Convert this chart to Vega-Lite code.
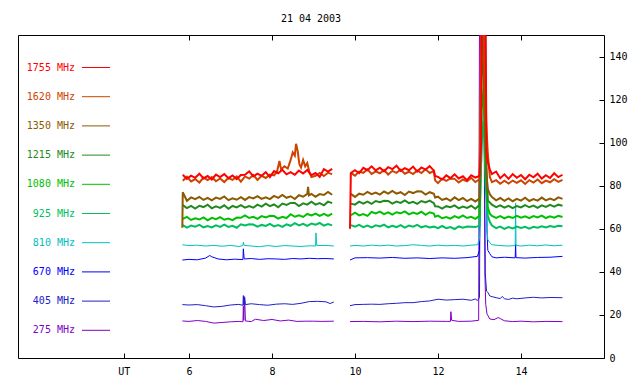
{
"$schema":"https://vega.github.io/schema/vega-lite/v6.json",
"width":586,"height":323,
"autosize":{"type":"none"},
"padding":{"left":18,"top":35,"right":36,"bottom":26},
"background":"white",
"title":{"text":"21 04 2003","font":"DejaVu Sans Mono","fontSize":10,"fontWeight":"normal","color":"black","offset":11,"anchor":"middle"},
"config":{"view":{"stroke":"black","strokeWidth":1},"axis":{"labelFont":"DejaVu Sans Mono","labelFontSize":10,"labelColor":"black","tickColor":"black","grid":false,"domain":false,"title":null}},
"resolve":{"axis":{"x":"independent"},"scale":{"x":"shared"}},
"layer":[
{"data":{"values":[
{"f":275,"t":5.84,"v":17.2},{"f":275,"t":6.0,"v":17.0},{"f":275,"t":6.2,"v":17.4},{"f":275,"t":6.4,"v":17.0},{"f":275,"t":6.6,"v":16.2},{"f":275,"t":6.8,"v":16.5},{"f":275,"t":7.0,"v":16.8},{"f":275,"t":7.2,"v":17.0},{"f":275,"t":7.3,"v":16.8},{"f":275,"t":7.31,"v":24.0},{"f":275,"t":7.32,"v":17.5},{"f":275,"t":7.34,"v":28.5},{"f":275,"t":7.36,"v":17.2},{"f":275,"t":7.5,"v":16.9},{"f":275,"t":7.6,"v":18.0},{"f":275,"t":7.8,"v":17.4},{"f":275,"t":8.0,"v":17.9},{"f":275,"t":8.2,"v":17.2},{"f":275,"t":8.4,"v":17.6},{"f":275,"t":8.6,"v":17.0},{"f":275,"t":8.8,"v":17.1},{"f":275,"t":9.0,"v":17.1},{"f":275,"t":9.2,"v":17.0},{"f":275,"t":9.49,"v":17.1},{"f":275,"t":9.7,"v":null},
{"f":275,"t":9.88,"v":16.9},{"f":275,"t":10.2,"v":17.0},{"f":275,"t":10.6,"v":16.8},{"f":275,"t":11.0,"v":17.1},{"f":275,"t":11.4,"v":16.9},{"f":275,"t":11.8,"v":17.1},{"f":275,"t":12.2,"v":17.0},{"f":275,"t":12.3,"v":17.0},{"f":275,"t":12.31,"v":21.5},{"f":275,"t":12.33,"v":17.5},{"f":275,"t":12.5,"v":17.0},{"f":275,"t":12.8,"v":17.1},{"f":275,"t":12.98,"v":17.5},{"f":275,"t":13.0,"v":160},{"f":275,"t":13.1,"v":160},{"f":275,"t":13.13,"v":39},{"f":275,"t":13.15,"v":25},{"f":275,"t":13.18,"v":20.5},{"f":275,"t":13.25,"v":18.1},{"f":275,"t":13.35,"v":17.8},{"f":275,"t":13.45,"v":18.8},{"f":275,"t":13.5,"v":18.3},{"f":275,"t":13.6,"v":17.3},{"f":275,"t":13.8,"v":16.9},{"f":275,"t":14.0,"v":17.1},{"f":275,"t":14.3,"v":16.8},{"f":275,"t":14.6,"v":17.0},{"f":275,"t":15.0,"v":16.9},
{"f":405,"t":5.84,"v":24.8},{"f":405,"t":6.0,"v":24.6},{"f":405,"t":6.2,"v":24.8},{"f":405,"t":6.4,"v":24.3},{"f":405,"t":6.6,"v":23.7},{"f":405,"t":6.8,"v":24.0},{"f":405,"t":7.0,"v":24.6},{"f":405,"t":7.2,"v":24.9},{"f":405,"t":7.3,"v":24.5},{"f":405,"t":7.31,"v":29.0},{"f":405,"t":7.32,"v":24.5},{"f":405,"t":7.34,"v":28.0},{"f":405,"t":7.36,"v":24.8},{"f":405,"t":7.5,"v":25.2},{"f":405,"t":7.7,"v":24.8},{"f":405,"t":7.9,"v":24.5},{"f":405,"t":8.1,"v":25.0},{"f":405,"t":8.3,"v":25.2},{"f":405,"t":8.5,"v":24.9},{"f":405,"t":8.7,"v":25.4},{"f":405,"t":8.9,"v":26.2},{"f":405,"t":9.1,"v":26.3},{"f":405,"t":9.3,"v":26.1},{"f":405,"t":9.4,"v":25.3},{"f":405,"t":9.49,"v":26.0},{"f":405,"t":9.7,"v":null},
{"f":405,"t":9.88,"v":24.3},{"f":405,"t":10.0,"v":24.8},{"f":405,"t":10.2,"v":24.9},{"f":405,"t":10.4,"v":25.0},{"f":405,"t":10.6,"v":24.9},{"f":405,"t":10.8,"v":25.2},{"f":405,"t":11.0,"v":25.4},{"f":405,"t":11.2,"v":25.7},{"f":405,"t":11.4,"v":25.7},{"f":405,"t":11.6,"v":26.2},{"f":405,"t":11.8,"v":26.5},{"f":405,"t":12.0,"v":27.3},{"f":405,"t":12.2,"v":26.9},{"f":405,"t":12.4,"v":27.1},{"f":405,"t":12.6,"v":27.3},{"f":405,"t":12.8,"v":26.8},{"f":405,"t":12.9,"v":27.4},{"f":405,"t":12.95,"v":26.7},{"f":405,"t":13.0,"v":28},{"f":405,"t":13.03,"v":160},{"f":405,"t":13.1,"v":160},{"f":405,"t":13.14,"v":39},{"f":405,"t":13.17,"v":31},{"f":405,"t":13.2,"v":30.5},{"f":405,"t":13.25,"v":28.8},{"f":405,"t":13.3,"v":28.5},{"f":405,"t":13.4,"v":28.0},{"f":405,"t":13.5,"v":27.6},{"f":405,"t":13.55,"v":28.6},{"f":405,"t":13.6,"v":27.5},{"f":405,"t":13.7,"v":27.2},{"f":405,"t":13.8,"v":27.8},{"f":405,"t":13.9,"v":27.5},{"f":405,"t":14.1,"v":27.9},{"f":405,"t":14.3,"v":28.2},{"f":405,"t":14.5,"v":27.9},{"f":405,"t":14.7,"v":28.1},{"f":405,"t":15.0,"v":28.0},
{"f":670,"t":5.84,"v":45.5},{"f":670,"t":6.0,"v":45.8},{"f":670,"t":6.2,"v":45.6},{"f":670,"t":6.4,"v":46.4},{"f":670,"t":6.5,"v":47.6},{"f":670,"t":6.55,"v":47.0},{"f":670,"t":6.7,"v":46.0},{"f":670,"t":6.9,"v":45.6},{"f":670,"t":7.1,"v":45.9},{"f":670,"t":7.3,"v":45.7},{"f":670,"t":7.31,"v":50.7},{"f":670,"t":7.33,"v":46.0},{"f":670,"t":7.5,"v":46.2},{"f":670,"t":7.7,"v":45.8},{"f":670,"t":7.9,"v":46.1},{"f":670,"t":8.1,"v":46.0},{"f":670,"t":8.3,"v":45.8},{"f":670,"t":8.5,"v":46.2},{"f":670,"t":8.7,"v":46.0},{"f":670,"t":8.9,"v":46.3},{"f":670,"t":9.1,"v":46.1},{"f":670,"t":9.3,"v":46.2},{"f":670,"t":9.49,"v":46.0},{"f":670,"t":9.7,"v":null},
{"f":670,"t":9.88,"v":45.5},{"f":670,"t":10.0,"v":46.5},{"f":670,"t":10.3,"v":46.6},{"f":670,"t":10.6,"v":46.4},{"f":670,"t":10.9,"v":46.7},{"f":670,"t":11.2,"v":46.3},{"f":670,"t":11.5,"v":46.5},{"f":670,"t":11.8,"v":46.2},{"f":670,"t":12.1,"v":46.5},{"f":670,"t":12.4,"v":46.3},{"f":670,"t":12.7,"v":46.6},{"f":670,"t":12.95,"v":47.2},{"f":670,"t":13.0,"v":50},{"f":670,"t":13.05,"v":160},{"f":670,"t":13.15,"v":160},{"f":670,"t":13.18,"v":60},{"f":670,"t":13.2,"v":50},{"f":670,"t":13.25,"v":48.4},{"f":670,"t":13.3,"v":47.0},{"f":670,"t":13.4,"v":46.5},{"f":670,"t":13.6,"v":46.8},{"f":670,"t":13.86,"v":46.5},{"f":670,"t":13.87,"v":53},{"f":670,"t":13.88,"v":46.6},{"f":670,"t":14.1,"v":46.4},{"f":670,"t":14.4,"v":46.7},{"f":670,"t":14.7,"v":46.8},{"f":670,"t":15.0,"v":47.2},
{"f":810,"t":5.84,"v":52.6},{"f":810,"t":6.0,"v":52.2},{"f":810,"t":6.2,"v":52.4},{"f":810,"t":6.4,"v":52.0},{"f":810,"t":6.6,"v":52.3},{"f":810,"t":6.8,"v":51.9},{"f":810,"t":7.0,"v":52.3},{"f":810,"t":7.2,"v":51.8},{"f":810,"t":7.3,"v":52.2},{"f":810,"t":7.31,"v":53.8},{"f":810,"t":7.33,"v":52.3},{"f":810,"t":7.5,"v":52.0},{"f":810,"t":7.7,"v":51.7},{"f":810,"t":7.9,"v":52.2},{"f":810,"t":8.1,"v":51.8},{"f":810,"t":8.3,"v":52.2},{"f":810,"t":8.5,"v":52.0},{"f":810,"t":8.7,"v":51.8},{"f":810,"t":8.9,"v":52.1},{"f":810,"t":9.05,"v":52.0},{"f":810,"t":9.06,"v":58.1},{"f":810,"t":9.08,"v":52.2},{"f":810,"t":9.3,"v":52.3},{"f":810,"t":9.49,"v":52.0},{"f":810,"t":9.7,"v":null},
{"f":810,"t":9.88,"v":52.0},{"f":810,"t":10.0,"v":52.3},{"f":810,"t":10.2,"v":52.0},{"f":810,"t":10.4,"v":52.4},{"f":810,"t":10.6,"v":52.1},{"f":810,"t":10.8,"v":52.4},{"f":810,"t":11.0,"v":52.0},{"f":810,"t":11.2,"v":52.2},{"f":810,"t":11.4,"v":52.6},{"f":810,"t":11.6,"v":52.3},{"f":810,"t":11.8,"v":52.0},{"f":810,"t":12.0,"v":52.4},{"f":810,"t":12.2,"v":52.1},{"f":810,"t":12.4,"v":52.3},{"f":810,"t":12.6,"v":52.0},{"f":810,"t":12.8,"v":52.4},{"f":810,"t":12.95,"v":52.6},{"f":810,"t":13.0,"v":55},{"f":810,"t":13.05,"v":90},{"f":810,"t":13.1,"v":120},{"f":810,"t":13.13,"v":127},{"f":810,"t":13.16,"v":100},{"f":810,"t":13.18,"v":60},{"f":810,"t":13.2,"v":55},{"f":810,"t":13.25,"v":53.5},{"f":810,"t":13.3,"v":52.6},{"f":810,"t":13.5,"v":52.2},{"f":810,"t":13.7,"v":52.0},{"f":810,"t":13.86,"v":52.2},{"f":810,"t":13.87,"v":72.0},{"f":810,"t":13.88,"v":52.3},{"f":810,"t":14.0,"v":52.0},{"f":810,"t":14.2,"v":52.4},{"f":810,"t":14.4,"v":52.1},{"f":810,"t":14.6,"v":52.5},{"f":810,"t":14.8,"v":52.1},{"f":810,"t":15.0,"v":52.4},
{"f":925,"t":5.85,"v":61.7},{"f":925,"t":5.95,"v":60.5},{"f":925,"t":6.05,"v":61.5},{"f":925,"t":6.15,"v":61.0},{"f":925,"t":6.25,"v":61.8},{"f":925,"t":6.35,"v":60.7},{"f":925,"t":6.45,"v":61.3},{"f":925,"t":6.55,"v":60.6},{"f":925,"t":6.65,"v":61.6},{"f":925,"t":6.75,"v":60.9},{"f":925,"t":6.85,"v":61.9},{"f":925,"t":6.95,"v":60.9},{"f":925,"t":7.05,"v":61.4},{"f":925,"t":7.15,"v":60.5},{"f":925,"t":7.25,"v":62.1},{"f":925,"t":7.35,"v":61.5},{"f":925,"t":7.45,"v":62.1},{"f":925,"t":7.55,"v":62.0},{"f":925,"t":7.65,"v":61.0},{"f":925,"t":7.75,"v":61.8},{"f":925,"t":7.85,"v":61.3},{"f":925,"t":7.95,"v":62.3},{"f":925,"t":8.05,"v":61.1},{"f":925,"t":8.15,"v":61.7},{"f":925,"t":8.25,"v":60.9},{"f":925,"t":8.35,"v":62.1},{"f":925,"t":8.45,"v":61.4},{"f":925,"t":8.55,"v":62.6},{"f":925,"t":8.65,"v":61.6},{"f":925,"t":8.75,"v":62.3},{"f":925,"t":8.85,"v":61.4},{"f":925,"t":8.95,"v":62.4},{"f":925,"t":9.05,"v":61.9},{"f":925,"t":9.15,"v":62.7},{"f":925,"t":9.25,"v":61.5},{"f":925,"t":9.35,"v":62.2},{"f":925,"t":9.45,"v":61.6},{"f":925,"t":9.7,"v":null},
{"f":925,"t":9.9,"v":61.7},{"f":925,"t":10.0,"v":61.0},{"f":925,"t":10.1,"v":61.8},{"f":925,"t":10.2,"v":60.8},{"f":925,"t":10.3,"v":61.5},{"f":925,"t":10.4,"v":60.6},{"f":925,"t":10.5,"v":61.6},{"f":925,"t":10.6,"v":61.1},{"f":925,"t":10.7,"v":61.9},{"f":925,"t":10.8,"v":60.7},{"f":925,"t":10.9,"v":61.4},{"f":925,"t":11.0,"v":60.8},{"f":925,"t":11.1,"v":61.7},{"f":925,"t":11.2,"v":60.5},{"f":925,"t":11.3,"v":61.5},{"f":925,"t":11.4,"v":61.0},{"f":925,"t":11.5,"v":61.8},{"f":925,"t":11.6,"v":60.7},{"f":925,"t":11.7,"v":61.3},{"f":925,"t":11.8,"v":60.6},{"f":925,"t":11.9,"v":61.0},{"f":925,"t":12.0,"v":60.3},{"f":925,"t":12.1,"v":61.3},{"f":925,"t":12.2,"v":60.3},{"f":925,"t":12.3,"v":60.8},{"f":925,"t":12.4,"v":59.9},{"f":925,"t":12.5,"v":61.1},{"f":925,"t":12.6,"v":60.5},{"f":925,"t":12.7,"v":61.1},{"f":925,"t":12.8,"v":61.0},{"f":925,"t":12.9,"v":60.8},{"f":925,"t":13.0,"v":61.5},{"f":925,"t":13.05,"v":100},{"f":925,"t":13.1,"v":110},{"f":925,"t":13.15,"v":80},{"f":925,"t":13.2,"v":66},{"f":925,"t":13.25,"v":63.1},{"f":925,"t":13.3,"v":61.5},{"f":925,"t":13.4,"v":60.3},{"f":925,"t":13.5,"v":61.0},{"f":925,"t":13.6,"v":60.0},{"f":925,"t":13.7,"v":60.8},{"f":925,"t":13.8,"v":60.2},{"f":925,"t":13.9,"v":61.0},{"f":925,"t":14.0,"v":60.4},{"f":925,"t":14.1,"v":60.9},{"f":925,"t":14.2,"v":60.1},{"f":925,"t":14.3,"v":60.9},{"f":925,"t":14.4,"v":60.5},{"f":925,"t":14.5,"v":61.2},{"f":925,"t":14.6,"v":60.6},{"f":925,"t":14.7,"v":61.3},{"f":925,"t":14.8,"v":60.8},{"f":925,"t":14.9,"v":61.4},{"f":925,"t":15.0,"v":61.2},
{"f":1080,"t":5.85,"v":64.6},{"f":1080,"t":5.95,"v":65.5},{"f":1080,"t":6.05,"v":64.1},{"f":1080,"t":6.15,"v":64.9},{"f":1080,"t":6.25,"v":64.3},{"f":1080,"t":6.35,"v":65.3},{"f":1080,"t":6.45,"v":63.9},{"f":1080,"t":6.55,"v":65.1},{"f":1080,"t":6.65,"v":64.5},{"f":1080,"t":6.75,"v":65.4},{"f":1080,"t":6.85,"v":64.2},{"f":1080,"t":6.95,"v":64.8},{"f":1080,"t":7.05,"v":64.0},{"f":1080,"t":7.15,"v":65.2},{"f":1080,"t":7.25,"v":65.1},{"f":1080,"t":7.35,"v":66.2},{"f":1080,"t":7.45,"v":65.0},{"f":1080,"t":7.55,"v":65.6},{"f":1080,"t":7.65,"v":64.6},{"f":1080,"t":7.75,"v":65.9},{"f":1080,"t":7.85,"v":65.3},{"f":1080,"t":7.95,"v":66.0},{"f":1080,"t":8.05,"v":65.9},{"f":1080,"t":8.15,"v":64.7},{"f":1080,"t":8.25,"v":65.6},{"f":1080,"t":8.35,"v":65.0},{"f":1080,"t":8.45,"v":66.8},{"f":1080,"t":8.55,"v":65.6},{"f":1080,"t":8.65,"v":66.3},{"f":1080,"t":8.75,"v":65.5},{"f":1080,"t":8.85,"v":66.9},{"f":1080,"t":8.95,"v":66.2},{"f":1080,"t":9.05,"v":67.1},{"f":1080,"t":9.15,"v":66.0},{"f":1080,"t":9.25,"v":66.9},{"f":1080,"t":9.35,"v":66.0},{"f":1080,"t":9.45,"v":67.1},{"f":1080,"t":9.7,"v":null},
{"f":1080,"t":9.9,"v":66.3},{"f":1080,"t":10.0,"v":67.5},{"f":1080,"t":10.1,"v":66.2},{"f":1080,"t":10.2,"v":66.8},{"f":1080,"t":10.3,"v":66.0},{"f":1080,"t":10.4,"v":67.8},{"f":1080,"t":10.5,"v":67.1},{"f":1080,"t":10.6,"v":68.0},{"f":1080,"t":10.7,"v":66.8},{"f":1080,"t":10.8,"v":67.6},{"f":1080,"t":10.9,"v":66.6},{"f":1080,"t":11.0,"v":67.7},{"f":1080,"t":11.1,"v":67.2},{"f":1080,"t":11.2,"v":68.1},{"f":1080,"t":11.3,"v":66.7},{"f":1080,"t":11.4,"v":67.5},{"f":1080,"t":11.5,"v":66.9},{"f":1080,"t":11.6,"v":67.9},{"f":1080,"t":11.7,"v":66.5},{"f":1080,"t":11.8,"v":67.7},{"f":1080,"t":11.9,"v":67.1},{"f":1080,"t":11.93,"v":65.6},{"f":1080,"t":12.0,"v":66.1},{"f":1080,"t":12.1,"v":64.9},{"f":1080,"t":12.2,"v":65.5},{"f":1080,"t":12.3,"v":64.7},{"f":1080,"t":12.4,"v":65.9},{"f":1080,"t":12.5,"v":65.1},{"f":1080,"t":12.6,"v":66.2},{"f":1080,"t":12.7,"v":65.0},{"f":1080,"t":12.8,"v":65.6},{"f":1080,"t":12.9,"v":64.6},{"f":1080,"t":13.0,"v":66.0},{"f":1080,"t":13.05,"v":115},{"f":1080,"t":13.1,"v":125},{"f":1080,"t":13.15,"v":90},{"f":1080,"t":13.2,"v":70},{"f":1080,"t":13.25,"v":67.0},{"f":1080,"t":13.3,"v":66.0},{"f":1080,"t":13.4,"v":65.1},{"f":1080,"t":13.5,"v":65.9},{"f":1080,"t":13.6,"v":64.8},{"f":1080,"t":13.7,"v":65.7},{"f":1080,"t":13.8,"v":65.0},{"f":1080,"t":13.9,"v":66.0},{"f":1080,"t":14.0,"v":65.2},{"f":1080,"t":14.1,"v":65.8},{"f":1080,"t":14.2,"v":64.9},{"f":1080,"t":14.3,"v":65.9},{"f":1080,"t":14.4,"v":65.3},{"f":1080,"t":14.5,"v":66.1},{"f":1080,"t":14.6,"v":65.0},{"f":1080,"t":14.7,"v":65.8},{"f":1080,"t":14.8,"v":65.2},{"f":1080,"t":14.9,"v":66.0},{"f":1080,"t":15.0,"v":65.5},
{"f":1215,"t":5.85,"v":71.0},{"f":1215,"t":5.95,"v":69.6},{"f":1215,"t":6.05,"v":70.6},{"f":1215,"t":6.15,"v":69.4},{"f":1215,"t":6.25,"v":70.7},{"f":1215,"t":6.35,"v":70.1},{"f":1215,"t":6.45,"v":71.2},{"f":1215,"t":6.55,"v":69.5},{"f":1215,"t":6.65,"v":70.4},{"f":1215,"t":6.75,"v":69.7},{"f":1215,"t":6.85,"v":70.9},{"f":1215,"t":6.95,"v":69.3},{"f":1215,"t":7.05,"v":70.6},{"f":1215,"t":7.15,"v":69.9},{"f":1215,"t":7.25,"v":71.0},{"f":1215,"t":7.35,"v":69.8},{"f":1215,"t":7.45,"v":70.6},{"f":1215,"t":7.55,"v":69.8},{"f":1215,"t":7.65,"v":71.2},{"f":1215,"t":7.75,"v":70.3},{"f":1215,"t":7.85,"v":71.7},{"f":1215,"t":7.95,"v":70.5},{"f":1215,"t":8.05,"v":71.3},{"f":1215,"t":8.15,"v":70.0},{"f":1215,"t":8.25,"v":71.7},{"f":1215,"t":8.35,"v":71.1},{"f":1215,"t":8.45,"v":72.0},{"f":1215,"t":8.55,"v":72.0},{"f":1215,"t":8.65,"v":70.6},{"f":1215,"t":8.75,"v":71.8},{"f":1215,"t":8.85,"v":71.2},{"f":1215,"t":8.95,"v":72.6},{"f":1215,"t":9.05,"v":71.2},{"f":1215,"t":9.15,"v":71.9},{"f":1215,"t":9.25,"v":70.9},{"f":1215,"t":9.35,"v":72.6},{"f":1215,"t":9.45,"v":71.9},{"f":1215,"t":9.7,"v":null},
{"f":1215,"t":9.9,"v":71.7},{"f":1215,"t":10.0,"v":71.2},{"f":1215,"t":10.1,"v":72.6},{"f":1215,"t":10.2,"v":71.7},{"f":1215,"t":10.3,"v":72.6},{"f":1215,"t":10.4,"v":71.6},{"f":1215,"t":10.5,"v":72.9},{"f":1215,"t":10.6,"v":72.3},{"f":1215,"t":10.7,"v":73.0},{"f":1215,"t":10.8,"v":72.9},{"f":1215,"t":10.9,"v":71.7},{"f":1215,"t":11.0,"v":72.6},{"f":1215,"t":11.1,"v":72.0},{"f":1215,"t":11.2,"v":73.2},{"f":1215,"t":11.3,"v":71.9},{"f":1215,"t":11.4,"v":72.5},{"f":1215,"t":11.5,"v":71.6},{"f":1215,"t":11.6,"v":72.9},{"f":1215,"t":11.7,"v":72.2},{"f":1215,"t":11.8,"v":73.1},{"f":1215,"t":11.9,"v":71.9},{"f":1215,"t":11.93,"v":70.5},{"f":1215,"t":12.0,"v":70.4},{"f":1215,"t":12.1,"v":69.4},{"f":1215,"t":12.2,"v":70.5},{"f":1215,"t":12.3,"v":70.0},{"f":1215,"t":12.4,"v":70.9},{"f":1215,"t":12.5,"v":69.5},{"f":1215,"t":12.6,"v":70.3},{"f":1215,"t":12.7,"v":69.7},{"f":1215,"t":12.8,"v":70.7},{"f":1215,"t":12.9,"v":69.3},{"f":1215,"t":13.0,"v":71.0},{"f":1215,"t":13.05,"v":130},{"f":1215,"t":13.1,"v":140},{"f":1215,"t":13.15,"v":95},{"f":1215,"t":13.2,"v":73.2},{"f":1215,"t":13.3,"v":71.2},{"f":1215,"t":13.4,"v":70.1},{"f":1215,"t":13.5,"v":70.9},{"f":1215,"t":13.6,"v":69.8},{"f":1215,"t":13.7,"v":70.7},{"f":1215,"t":13.8,"v":69.6},{"f":1215,"t":13.9,"v":70.6},{"f":1215,"t":14.0,"v":69.9},{"f":1215,"t":14.1,"v":71.0},{"f":1215,"t":14.2,"v":70.0},{"f":1215,"t":14.3,"v":70.8},{"f":1215,"t":14.4,"v":69.7},{"f":1215,"t":14.5,"v":70.9},{"f":1215,"t":14.6,"v":70.2},{"f":1215,"t":14.7,"v":71.1},{"f":1215,"t":14.8,"v":70.3},{"f":1215,"t":14.9,"v":71.2},{"f":1215,"t":15.0,"v":70.7},
{"f":1350,"t":5.84,"v":60.5},{"f":1350,"t":5.85,"v":77.0},{"f":1350,"t":5.95,"v":73.0},{"f":1350,"t":6.05,"v":74.6},{"f":1350,"t":6.15,"v":73.8},{"f":1350,"t":6.25,"v":74.8},{"f":1350,"t":6.35,"v":73.4},{"f":1350,"t":6.45,"v":74.4},{"f":1350,"t":6.55,"v":73.2},{"f":1350,"t":6.65,"v":74.5},{"f":1350,"t":6.75,"v":73.9},{"f":1350,"t":6.85,"v":75.0},{"f":1350,"t":6.95,"v":73.3},{"f":1350,"t":7.05,"v":74.2},{"f":1350,"t":7.15,"v":73.5},{"f":1350,"t":7.25,"v":74.7},{"f":1350,"t":7.35,"v":73.4},{"f":1350,"t":7.45,"v":74.7},{"f":1350,"t":7.55,"v":74.1},{"f":1350,"t":7.65,"v":75.2},{"f":1350,"t":7.75,"v":73.9},{"f":1350,"t":7.85,"v":74.6},{"f":1350,"t":7.95,"v":73.8},{"f":1350,"t":8.05,"v":75.3},{"f":1350,"t":8.15,"v":74.4},{"f":1350,"t":8.25,"v":75.7},{"f":1350,"t":8.35,"v":74.4},{"f":1350,"t":8.45,"v":75.1},{"f":1350,"t":8.55,"v":73.8},{"f":1350,"t":8.65,"v":75.6},{"f":1350,"t":8.75,"v":74.9},{"f":1350,"t":8.85,"v":76.2},{"f":1350,"t":8.87,"v":79.5},{"f":1350,"t":8.89,"v":75.5},{"f":1350,"t":8.95,"v":76.2},{"f":1350,"t":9.05,"v":74.9},{"f":1350,"t":9.15,"v":76.1},{"f":1350,"t":9.25,"v":75.7},{"f":1350,"t":9.35,"v":77.1},{"f":1350,"t":9.45,"v":75.8},{"f":1350,"t":9.7,"v":null},
{"f":1350,"t":9.9,"v":76.2},{"f":1350,"t":10.0,"v":74.8},{"f":1350,"t":10.1,"v":76.3},{"f":1350,"t":10.2,"v":75.8},{"f":1350,"t":10.3,"v":77.1},{"f":1350,"t":10.4,"v":76.1},{"f":1350,"t":10.5,"v":76.8},{"f":1350,"t":10.6,"v":75.9},{"f":1350,"t":10.7,"v":77.3},{"f":1350,"t":10.8,"v":76.3},{"f":1350,"t":10.9,"v":77.6},{"f":1350,"t":11.0,"v":76.3},{"f":1350,"t":11.1,"v":77.0},{"f":1350,"t":11.2,"v":75.7},{"f":1350,"t":11.3,"v":77.3},{"f":1350,"t":11.4,"v":76.6},{"f":1350,"t":11.5,"v":77.4},{"f":1350,"t":11.6,"v":77.3},{"f":1350,"t":11.7,"v":75.9},{"f":1350,"t":11.8,"v":77.0},{"f":1350,"t":11.9,"v":76.3},{"f":1350,"t":11.93,"v":74.5},{"f":1350,"t":12.0,"v":74.9},{"f":1350,"t":12.1,"v":73.4},{"f":1350,"t":12.2,"v":74.1},{"f":1350,"t":12.3,"v":73.0},{"f":1350,"t":12.4,"v":74.6},{"f":1350,"t":12.5,"v":73.3},{"f":1350,"t":12.6,"v":74.3},{"f":1350,"t":12.7,"v":72.9},{"f":1350,"t":12.8,"v":73.9},{"f":1350,"t":12.9,"v":72.7},{"f":1350,"t":13.0,"v":74.0},{"f":1350,"t":13.04,"v":140},{"f":1350,"t":13.08,"v":150},{"f":1350,"t":13.12,"v":120},{"f":1350,"t":13.17,"v":85},{"f":1350,"t":13.2,"v":78.6},{"f":1350,"t":13.25,"v":76.0},{"f":1350,"t":13.3,"v":74.7},{"f":1350,"t":13.4,"v":73.2},{"f":1350,"t":13.5,"v":74.3},{"f":1350,"t":13.6,"v":73.0},{"f":1350,"t":13.7,"v":74.1},{"f":1350,"t":13.8,"v":72.8},{"f":1350,"t":13.9,"v":73.9},{"f":1350,"t":14.0,"v":73.1},{"f":1350,"t":14.1,"v":74.4},{"f":1350,"t":14.2,"v":72.9},{"f":1350,"t":14.3,"v":73.8},{"f":1350,"t":14.4,"v":73.1},{"f":1350,"t":14.5,"v":74.5},{"f":1350,"t":14.6,"v":73.2},{"f":1350,"t":14.7,"v":74.0},{"f":1350,"t":14.8,"v":73.3},{"f":1350,"t":14.9,"v":74.6},{"f":1350,"t":15.0,"v":73.9},
{"f":1620,"t":5.85,"v":82.3},{"f":1620,"t":5.95,"v":84.2},{"f":1620,"t":6.05,"v":82.0},{"f":1620,"t":6.15,"v":83.1},{"f":1620,"t":6.25,"v":81.5},{"f":1620,"t":6.35,"v":83.8},{"f":1620,"t":6.45,"v":82.6},{"f":1620,"t":6.55,"v":84.0},{"f":1620,"t":6.65,"v":82.1},{"f":1620,"t":6.75,"v":83.4},{"f":1620,"t":6.85,"v":81.7},{"f":1620,"t":6.95,"v":83.6},{"f":1620,"t":7.05,"v":82.7},{"f":1620,"t":7.15,"v":84.3},{"f":1620,"t":7.25,"v":81.9},{"f":1620,"t":7.35,"v":84.3},{"f":1620,"t":7.45,"v":83.3},{"f":1620,"t":7.55,"v":85.0},{"f":1620,"t":7.65,"v":82.7},{"f":1620,"t":7.75,"v":84.6},{"f":1620,"t":7.85,"v":83.6},{"f":1620,"t":7.95,"v":85.2},{"f":1620,"t":8.05,"v":84.8},{"f":1620,"t":8.12,"v":86.5},{"f":1620,"t":8.18,"v":91.5},{"f":1620,"t":8.22,"v":87.5},{"f":1620,"t":8.3,"v":89.0},{"f":1620,"t":8.38,"v":88.0},{"f":1620,"t":8.45,"v":92.0},{"f":1620,"t":8.5,"v":95.5},{"f":1620,"t":8.55,"v":94.0},{"f":1620,"t":8.58,"v":99.5},{"f":1620,"t":8.62,"v":96.0},{"f":1620,"t":8.66,"v":90.0},{"f":1620,"t":8.7,"v":88.5},{"f":1620,"t":8.75,"v":92.0},{"f":1620,"t":8.8,"v":89.0},{"f":1620,"t":8.85,"v":90.5},{"f":1620,"t":8.9,"v":86.5},{"f":1620,"t":8.95,"v":84.0},{"f":1620,"t":9.05,"v":84.6},{"f":1620,"t":9.15,"v":85.9},{"f":1620,"t":9.25,"v":84.5},{"f":1620,"t":9.35,"v":86.0},{"f":1620,"t":9.45,"v":85.4},{"f":1620,"t":9.7,"v":null},
{"f":1620,"t":9.9,"v":86.0},{"f":1620,"t":10.0,"v":84.7},{"f":1620,"t":10.1,"v":86.6},{"f":1620,"t":10.2,"v":86.0},{"f":1620,"t":10.3,"v":87.6},{"f":1620,"t":10.4,"v":85.5},{"f":1620,"t":10.5,"v":86.7},{"f":1620,"t":10.6,"v":85.8},{"f":1620,"t":10.7,"v":87.3},{"f":1620,"t":10.8,"v":85.2},{"f":1620,"t":10.9,"v":86.9},{"f":1620,"t":11.0,"v":86.0},{"f":1620,"t":11.1,"v":87.5},{"f":1620,"t":11.2,"v":85.6},{"f":1620,"t":11.3,"v":86.5},{"f":1620,"t":11.4,"v":85.4},{"f":1620,"t":11.5,"v":87.1},{"f":1620,"t":11.6,"v":85.9},{"f":1620,"t":11.7,"v":87.6},{"f":1620,"t":11.8,"v":85.9},{"f":1620,"t":11.9,"v":86.8},{"f":1620,"t":11.93,"v":82.5},{"f":1620,"t":12.0,"v":81.2},{"f":1620,"t":12.1,"v":83.3},{"f":1620,"t":12.2,"v":82.3},{"f":1620,"t":12.3,"v":83.4},{"f":1620,"t":12.4,"v":83.2},{"f":1620,"t":12.5,"v":81.5},{"f":1620,"t":12.6,"v":82.9},{"f":1620,"t":12.7,"v":82.0},{"f":1620,"t":12.8,"v":83.7},{"f":1620,"t":12.9,"v":81.7},{"f":1620,"t":13.0,"v":83.0},{"f":1620,"t":13.03,"v":120},{"f":1620,"t":13.05,"v":160},{"f":1620,"t":13.11,"v":160},{"f":1620,"t":13.16,"v":110},{"f":1620,"t":13.2,"v":95},{"f":1620,"t":13.25,"v":84.0},{"f":1620,"t":13.3,"v":81.7},{"f":1620,"t":13.4,"v":82.6},{"f":1620,"t":13.5,"v":80.9},{"f":1620,"t":13.6,"v":82.3},{"f":1620,"t":13.7,"v":81.0},{"f":1620,"t":13.8,"v":82.4},{"f":1620,"t":13.9,"v":81.3},{"f":1620,"t":14.0,"v":82.5},{"f":1620,"t":14.1,"v":80.8},{"f":1620,"t":14.2,"v":82.6},{"f":1620,"t":14.3,"v":81.5},{"f":1620,"t":14.4,"v":82.9},{"f":1620,"t":14.5,"v":81.2},{"f":1620,"t":14.6,"v":82.4},{"f":1620,"t":14.7,"v":81.6},{"f":1620,"t":14.8,"v":83.0},{"f":1620,"t":14.9,"v":81.8},{"f":1620,"t":15.0,"v":82.7},
{"f":1755,"t":5.85,"v":85.1},{"f":1755,"t":5.95,"v":83.2},{"f":1755,"t":6.05,"v":84.7},{"f":1755,"t":6.15,"v":83.7},{"f":1755,"t":6.25,"v":85.6},{"f":1755,"t":6.35,"v":83.4},{"f":1755,"t":6.45,"v":84.5},{"f":1755,"t":6.55,"v":82.9},{"f":1755,"t":6.65,"v":85.2},{"f":1755,"t":6.75,"v":84.0},{"f":1755,"t":6.85,"v":85.4},{"f":1755,"t":6.95,"v":83.5},{"f":1755,"t":7.05,"v":84.8},{"f":1755,"t":7.15,"v":83.1},{"f":1755,"t":7.25,"v":85.0},{"f":1755,"t":7.35,"v":85.1},{"f":1755,"t":7.45,"v":86.7},{"f":1755,"t":7.55,"v":84.3},{"f":1755,"t":7.65,"v":85.6},{"f":1755,"t":7.75,"v":84.6},{"f":1755,"t":7.85,"v":86.3},{"f":1755,"t":7.95,"v":84.0},{"f":1755,"t":8.05,"v":86.8},{"f":1755,"t":8.15,"v":85.8},{"f":1755,"t":8.25,"v":87.4},{"f":1755,"t":8.35,"v":85.3},{"f":1755,"t":8.45,"v":86.3},{"f":1755,"t":8.55,"v":85.1},{"f":1755,"t":8.65,"v":87.0},{"f":1755,"t":8.75,"v":85.7},{"f":1755,"t":8.85,"v":87.3},{"f":1755,"t":8.95,"v":84.9},{"f":1755,"t":9.05,"v":85.9},{"f":1755,"t":9.15,"v":84.1},{"f":1755,"t":9.25,"v":87.7},{"f":1755,"t":9.35,"v":86.6},{"f":1755,"t":9.45,"v":87.8},{"f":1755,"t":9.7,"v":null},
{"f":1755,"t":9.88,"v":60},{"f":1755,"t":9.9,"v":85.9},{"f":1755,"t":10.0,"v":87.2},{"f":1755,"t":10.1,"v":85.8},{"f":1755,"t":10.2,"v":88.3},{"f":1755,"t":10.3,"v":87.2},{"f":1755,"t":10.4,"v":89.0},{"f":1755,"t":10.5,"v":87.1},{"f":1755,"t":10.6,"v":88.4},{"f":1755,"t":10.7,"v":86.7},{"f":1755,"t":10.8,"v":88.6},{"f":1755,"t":10.9,"v":87.7},{"f":1755,"t":11.0,"v":89.3},{"f":1755,"t":11.1,"v":86.9},{"f":1755,"t":11.2,"v":88.2},{"f":1755,"t":11.3,"v":87.2},{"f":1755,"t":11.4,"v":88.9},{"f":1755,"t":11.5,"v":86.6},{"f":1755,"t":11.6,"v":88.5},{"f":1755,"t":11.7,"v":87.5},{"f":1755,"t":11.8,"v":89.1},{"f":1755,"t":11.9,"v":87.0},{"f":1755,"t":11.93,"v":84.5},{"f":1755,"t":12.0,"v":84.1},{"f":1755,"t":12.1,"v":82.9},{"f":1755,"t":12.2,"v":84.8},{"f":1755,"t":12.3,"v":83.5},{"f":1755,"t":12.4,"v":85.3},{"f":1755,"t":12.5,"v":83.4},{"f":1755,"t":12.6,"v":84.4},{"f":1755,"t":12.7,"v":82.6},{"f":1755,"t":12.8,"v":84.9},{"f":1755,"t":12.9,"v":83.8},{"f":1755,"t":13.0,"v":84.5},{"f":1755,"t":13.04,"v":100},{"f":1755,"t":13.06,"v":165},{"f":1755,"t":13.14,"v":165},{"f":1755,"t":13.17,"v":95},{"f":1755,"t":13.2,"v":91.0},{"f":1755,"t":13.25,"v":87.5},{"f":1755,"t":13.3,"v":85.4},{"f":1755,"t":13.4,"v":86.6},{"f":1755,"t":13.5,"v":83.5},{"f":1755,"t":13.6,"v":85.3},{"f":1755,"t":13.7,"v":83.2},{"f":1755,"t":13.8,"v":85.4},{"f":1755,"t":13.9,"v":83.7},{"f":1755,"t":14.0,"v":85.0},{"f":1755,"t":14.1,"v":83.0},{"f":1755,"t":14.2,"v":85.1},{"f":1755,"t":14.3,"v":83.9},{"f":1755,"t":14.4,"v":85.6},{"f":1755,"t":14.5,"v":83.3},{"f":1755,"t":14.6,"v":84.9},{"f":1755,"t":14.7,"v":83.6},{"f":1755,"t":14.8,"v":85.8},{"f":1755,"t":14.9,"v":84.0},{"f":1755,"t":15.0,"v":85.1}
]},
"mark":{"type":"line","clip":true,"invalid":"break-paths-filter-domains"},
"encoding":{
"x":{"field":"t","type":"quantitative","scale":{"domain":[1.88,16.0],"nice":false,"zero":false},"axis":{"orient":"bottom","values":[4.43,6,8,10,12,14],"labelExpr":"datum.value < 5 ? 'UT' : datum.label","tickSize":-5,"labelPadding":13,"labelFlush":false}},
"y":{"field":"v","type":"quantitative","scale":{"domain":[0,150],"nice":false,"zero":true},"axis":{"orient":"right","values":[0,20,40,60,80,100,120,140],"tickSize":-5,"labelPadding":10}},
"strokeWidth":{"condition":{"test":"datum.f >= 925","value":2},"value":1},
"color":{"field":"f","type":"nominal","scale":{"domain":[1755,1620,1350,1215,1080,925,810,670,405,275],"range":["#ff0000","#cc4400","#8c5a00","#208a20","#00c000","#00bf60","#00c0c0","#0000ff","#2020c8","#8000c8"]},
"legend":{"orient":"none","legendX":63.5,"legendY":18,"title":null,"symbolType":"stroke","symbolSize":784,"symbolStrokeWidth":1,"labelFont":"DejaVu Sans Mono","labelFontSize":10,"labelAlign":"right","labelOffset":-35.5,"rowPadding":9.2,"padding":0,"labelExpr":"datum.label + ' MHz'","encode":{"labels":{"update":{"fill":{"scale":"color","field":"value"}}}}}}
}},
{"mark":{"type":"rule","color":"#707070","strokeWidth":1},
"encoding":{"x":{"datum":4.43,"type":"quantitative","axis":{"orient":"top","values":[6,8,10,12,14],"labels":false,"tickSize":-5}}}}
]
}
